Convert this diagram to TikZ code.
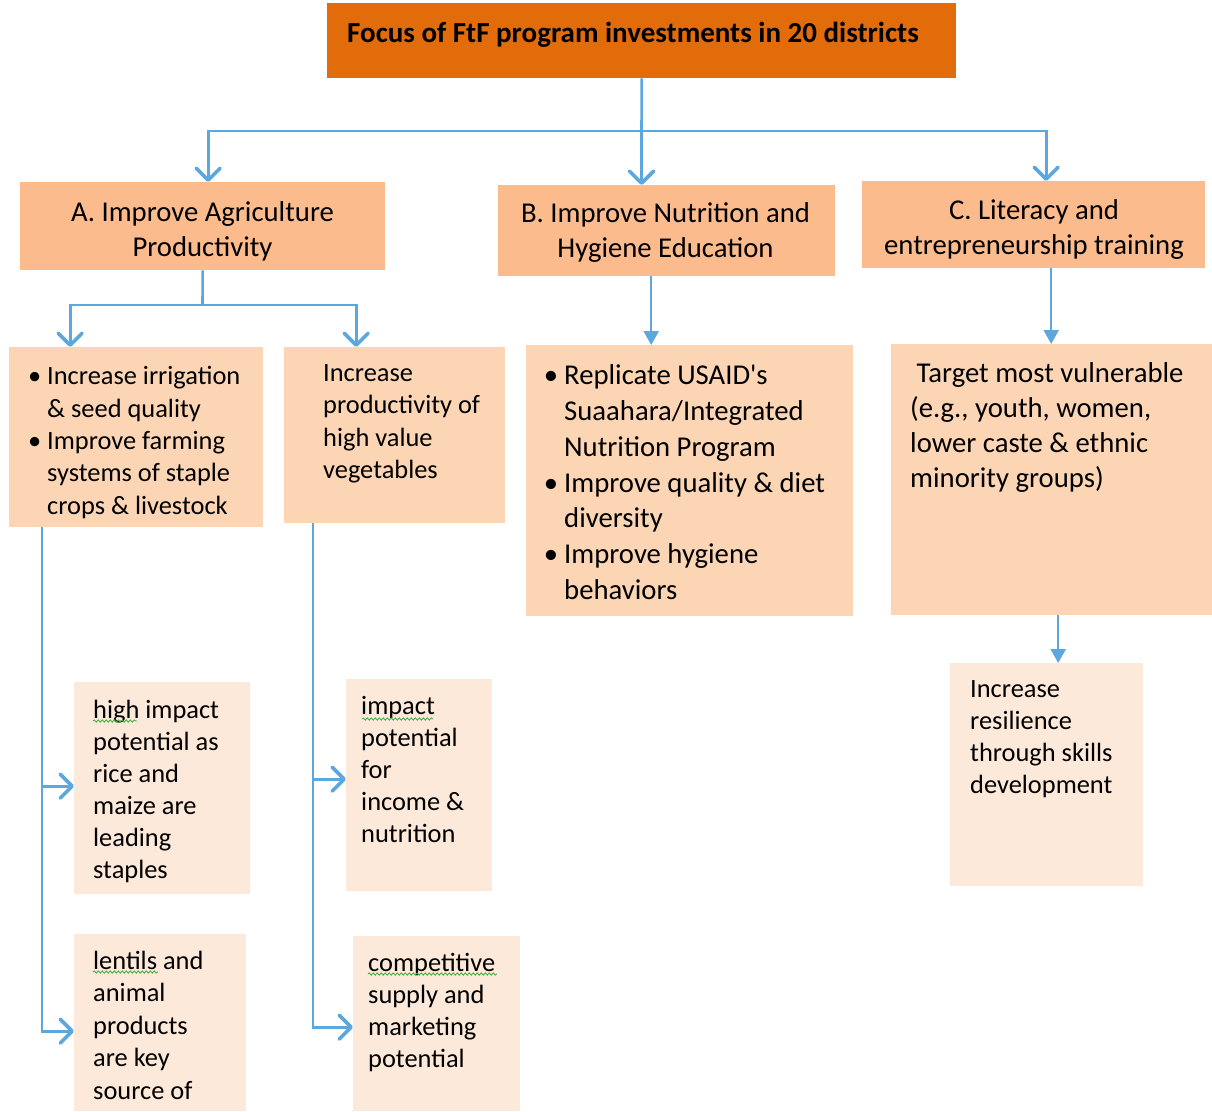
\documentclass[tikz,border=0pt]{standalone}
\usepackage{fontspec}
\setmainfont{Carlito}
\usetikzlibrary{arrows.meta,calc,decorations.pathmorphing}
\definecolor{ttl}{HTML}{E36C0A}
\definecolor{lvA}{HTML}{FBBB8C}
\definecolor{lvB}{HTML}{FCD5B5}
\definecolor{lvC}{HTML}{FDE9D9}
\definecolor{lnk}{RGB}{91,167,222}
\definecolor{spell}{RGB}{70,175,70}
\newcommand\mybul{\llap{\textbullet\hspace{6pt}}}
\begin{document}
\begin{tikzpicture}[x=1pt,y=-1pt,
  box/.style={rectangle, draw=none, inner sep=0pt, anchor=north west},
  tT/.style={font=\bfseries\fontsize{29}{35}\selectfont, align=left, inner sep=0pt, anchor=north west, execute at begin node={\rule{0pt}{26pt}}},
  tS/.style={font=\fontsize{26.4}{32.3}\selectfont, align=left, inner sep=0pt, anchor=north west, execute at begin node={\rule{0pt}{24pt}}},
  tB/.style={font=\fontsize{28.7}{35}\selectfont, align=left, inner sep=0pt, anchor=north west, execute at begin node={\rule{0pt}{26pt}}},
  tBc/.style={tB, align=center, anchor=north},
  conn/.style={draw=lnk, line width=2.6pt},
  conn2/.style={draw=lnk, line width=2.2pt},
  chev/.style={-{Straight Barb[length=12pt,width=24pt,line width=3.6pt,round]}},
  tri/.style={-{Triangle[length=14pt,width=15pt]}},
  wavy/.style={draw=spell, line width=0.9pt, decorate, decoration={snake, amplitude=1.1pt, segment length=4pt}}
]
\useasboundingbox (0,0) rectangle (1212,1111);

% boxes
\node[box, fill=ttl, minimum width=629, minimum height=75] (T) at (327,3) {};
\node[box, fill=lvA, minimum width=365, minimum height=88] (A) at (20,182) {};
\node[box, fill=lvA, minimum width=337, minimum height=91] (B) at (498,185) {};
\node[box, fill=lvA, minimum width=343, minimum height=87] (C) at (862,181) {};
\node[box, fill=lvB, minimum width=254, minimum height=180] (A1) at (9,347) {};
\node[box, fill=lvB, minimum width=221, minimum height=176] (A2) at (284,347) {};
\node[box, fill=lvB, minimum width=327, minimum height=271] (B1) at (526,345) {};
\node[box, fill=lvB, minimum width=321, minimum height=271] (C1) at (891,344) {};
\node[box, fill=lvC, minimum width=176, minimum height=212] (A3) at (74,682) {};
\node[box, fill=lvC, minimum width=172, minimum height=177] (A4) at (74,934) {};
\node[box, fill=lvC, minimum width=146, minimum height=212] (A5) at (346,679) {};
\node[box, fill=lvC, minimum width=167, minimum height=175] (A6) at (353,936) {};
\node[box, fill=lvC, minimum width=193, minimum height=223] (C2) at (950,663) {};

% texts
\node[tT] (Tt) at (347,16) {Focus of FtF program investments in 20 districts};
\node[tBc] (At) at (202.5,201.5) {A. Improve Agriculture\\Productivity};
\node[tBc] (Bt) at (665.5,202.5) {B. Improve Nutrition and\\Hygiene Education};
\node[tBc] (Ct) at (1034,199.5) {C. Literacy and\\entrepreneurship training};
\node[tS] (A1t) at (47,366.5) {\mybul Increase irrigation\\\& seed quality\\\mybul Improve farming\\systems of staple\\crops \& livestock};
\node[tS] (A2t) at (323,364.5) {Increase\\productivity of\\high value\\vegetables};
\node[tB, font=\fontsize{28.7}{35.8}\selectfont] (B1t) at (564,364.5) {\mybul Replicate USAID\textquotesingle s\\Suaahara/Integrated\\Nutrition Program\\\mybul Improve quality \& diet\\diversity\\\mybul Improve hygiene\\behaviors};
\node[tB] (C1t) at (910,362.5) {\ Target most vulnerable\\(e.g., youth, women,\\lower caste \& ethnic\\minority groups)};
\node[tS, font=\fontsize{26.4}{32}\selectfont] (A3t) at (93,699.5) {high impact\\potential as\\rice and\\maize are\\leading\\staples};
\node[tS, font=\fontsize{26.4}{32.5}\selectfont] (A4t) at (93,950.5) {lentils and\\animal\\products\\are key\\source of};
\node[tS, font=\fontsize{26.4}{32}\selectfont] (A5t) at (361,696.5) {impact\\potential\\for\\income \&\\nutrition};
\node[tS, font=\fontsize{26.4}{32}\selectfont] (A6t) at (368,953.5) {competitive\\supply and\\marketing\\potential};
\node[tS, font=\fontsize{26.4}{32}\selectfont] (C2t) at (970,680.5) {Increase\\resilience\\through skills\\development};

% spelling underlines
\draw[wavy] (93,721) -- (137,721);
\draw[wavy] (362,719) -- (433,719);
\draw[wavy] (93,972) -- (158,972);
\draw[wavy] (368,974) -- (497,974);

% connectors
\coordinate (hub) at (641.5,131);
\draw[conn] (T.south) -- (hub);
\draw[conn,chev] (hub) -- (hub |- B.north);
\draw[conn,chev] (hub) -| ([xshift=5.5]A.north);
\draw[conn,chev] (hub) -| ([xshift=12.5]C.north);

\coordinate (asp) at (202.5,305);
\draw[conn] (A.south) -- (asp);
\draw[conn,chev] (asp) -| ([xshift=-66]A1.north);
\draw[conn,chev] (asp) -| ([xshift=-38.5]A2.north);

\draw[conn2,tri] ([xshift=-15.5]B.south) -- ([xshift=-15.5]B.south |- B1.north);
\draw[conn2,tri] ([xshift=17.5]C.south) -- ([xshift=17.5]C.south |- C1.north);
\draw[conn2,tri] ([xshift=6.5]C1.south) -- ([xshift=6.5]C1.south |- C2.north);

\draw[conn,chev] ([xshift=33]A1.south west) |- ([yshift=2]A3.west);
\draw[conn,chev] ([xshift=33]A1.south west) |- ([yshift=-8.5]A4.west);
\draw[conn,chev] ([xshift=29]A2.south west) |- ([yshift=6]A5.west);
\draw[conn,chev] ([xshift=29]A2.south west) |- ([yshift=-3.5]A6.west);
\end{tikzpicture}
\end{document}
